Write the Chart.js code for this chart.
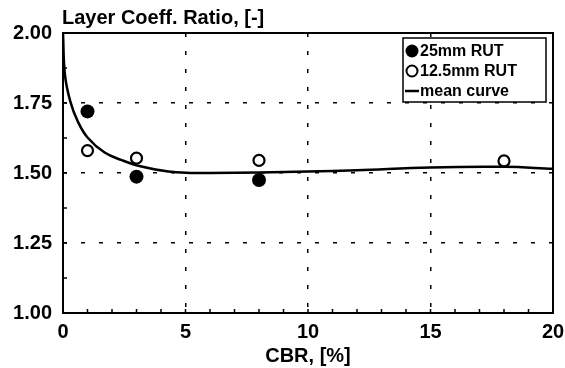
<!DOCTYPE html>
<html>
<head>
<meta charset="utf-8">
<script src="https://cdn.jsdelivr.net/npm/chart.js@4/dist/chart.umd.min.js"></script>
<style>
  html, body { margin: 0; padding: 0; background: #fff; }
  #wrap { width: 565px; height: 368px; }
</style>
</head>
<body>
<div id="wrap"><canvas id="chart"></canvas></div>
<script>
// values
const yTitle = "Layer Coeff. Ratio, [-]";
const xTitle = "CBR, [%]";

const cbr25 = [1, 3, 8];
const ratio25 = [1.72, 1.487, 1.475];

const cbr125 = [1, 3, 8, 18];
const ratio125 = [1.58, 1.553, 1.545, 1.543];

const meanCbr = [0, 0.08, 0.3, 0.6, 1, 1.7, 2.4, 3.2, 4.3, 5.2, 6, 8, 10, 12, 15, 18, 20];
const meanRatio = [2.0, 1.85, 1.755, 1.685, 1.627, 1.573, 1.546, 1.523, 1.505, 1.5, 1.5, 1.502, 1.505, 1.51, 1.52, 1.522, 1.515];

const labels = ["25mm RUT", "12.5mm RUT", "mean curve"];

const font = "'Liberation Sans', Arial, sans-serif";

function toPoints(xs, ys) {
    return xs.map((x, i) => ({ x: x, y: ys[i] }));
}

// frame, inward minor ticks, top label and boxed legend
const decor = {
    id: "decor",
    afterDraw(chart) {
        const ctx = chart.ctx;
        const a = chart.chartArea;
        const xs = chart.scales.x;
        const ys = chart.scales.y;
        ctx.save();
        ctx.strokeStyle = "#000";
        ctx.lineWidth = 2;
        ctx.strokeRect(a.left, a.top, a.right - a.left, a.bottom - a.top);

        ctx.lineWidth = 1.5;
        ctx.beginPath();
        for (let v = 1; v < 20; v++) {
            const px = xs.getPixelForValue(v);
            ctx.moveTo(px, a.bottom);
            ctx.lineTo(px, a.bottom - 4);
        }
        for (let v = 1.125; v < 2; v += 0.125) {
            const py = ys.getPixelForValue(v);
            ctx.moveTo(a.left, py);
            ctx.lineTo(a.left + 4, py);
        }
        ctx.stroke();

        ctx.fillStyle = "#000";
        ctx.font = "bold 20px " + font;
        ctx.textAlign = "left";
        ctx.textBaseline = "middle";
        ctx.fillText(yTitle, a.left - 1, 18);

        // legend box, anchored to the top right of the plot
        const lw = 143, lh = 64;
        const lx = a.right - lw - 7, ly = a.top + 5;
        ctx.fillStyle = "#fff";
        ctx.fillRect(lx, ly, lw, lh);
        ctx.lineWidth = 1.5;
        ctx.strokeRect(lx, ly, lw, lh);
        ctx.font = "bold 16px " + font;
        ctx.fillStyle = "#000";
        chart.data.datasets.forEach((ds, i) => {
            const cy = ly + 13 + i * 20;
            if (i === 0) {
                ctx.beginPath();
                ctx.arc(lx + 9, cy, 6.5, 0, Math.PI * 2);
                ctx.fill();
            } else if (i === 1) {
                ctx.beginPath();
                ctx.lineWidth = 2;
                ctx.arc(lx + 9, cy, 5.5, 0, Math.PI * 2);
                ctx.stroke();
            } else {
                ctx.lineWidth = 2.5;
                ctx.beginPath();
                ctx.moveTo(lx + 2, cy);
                ctx.lineTo(lx + 16, cy);
                ctx.stroke();
            }
            ctx.fillText(ds.label, lx + 17, cy + 1);
        });
        ctx.restore();
    }
};

const gridColor = (ctx) => {
    const v = ctx.tick ? ctx.tick.value : null;
    const edge = ctx.scale.axis === "x" ? (v === 0 || v === 20) : (v === 1 || v === 2);
    return edge ? "rgba(0,0,0,0)" : "#000";
};

new Chart(document.getElementById("chart").getContext("2d"), {
    type: "scatter",
    data: {
        datasets: [
            {
                label: labels[0],
                data: toPoints(cbr25, ratio25),
                pointRadius: 7,
                pointBorderWidth: 0,
                backgroundColor: "#000",
                borderColor: "#000",
                order: 1
            },
            {
                label: labels[1],
                data: toPoints(cbr125, ratio125),
                pointRadius: 5.5,
                pointBorderWidth: 2.2,
                backgroundColor: "#fff",
                borderColor: "#000",
                order: 1
            },
            {
                label: labels[2],
                data: toPoints(meanCbr, meanRatio),
                showLine: true,
                pointRadius: 0,
                borderColor: "#000",
                borderWidth: 2.5,
                tension: 0.4,
                order: 2
            }
        ]
    },
    options: {
        responsive: true,
        maintainAspectRatio: false,
        animation: false,
        events: [],
        layout: { padding: { top: 33, right: 12, left: 0, bottom: 0 } },
        plugins: {
            legend: { display: false },
            tooltip: { enabled: false }
        },
        scales: {
            x: {
                type: "linear",
                min: 0,
                max: 20,
                ticks: {
                    stepSize: 5,
                    color: "#000",
                    padding: 7,
                    font: { family: font, size: 20, weight: "bold" }
                },
                grid: {
                    color: gridColor,
                    lineWidth: 1.5,
                    drawTicks: false
                },
                border: { display: false, dash: [4, 14] },
                title: {
                    display: true,
                    text: xTitle,
                    color: "#000",
                    padding: { top: 0, bottom: 0 },
                    font: { family: font, size: 20, weight: "bold" }
                },
                afterFit(scale) {
                    scale.height = 55;
                    scale.paddingLeft = 0;
                    scale.paddingRight = 0;
                }
            },
            y: {
                type: "linear",
                min: 1,
                max: 2,
                ticks: {
                    stepSize: 0.25,
                    color: "#000",
                    padding: 11,
                    font: { family: font, size: 20, weight: "bold" },
                    callback: (v) => v.toFixed(2)
                },
                grid: {
                    color: gridColor,
                    lineWidth: 1.5,
                    drawTicks: false
                },
                border: { display: false, dash: [4, 14] },
                afterFit(scale) {
                    scale.width = 63;
                    scale.paddingTop = 0;
                    scale.paddingBottom = 0;
                }
            }
        }
    },
    plugins: [decor]
});
</script>
</body>
</html>
